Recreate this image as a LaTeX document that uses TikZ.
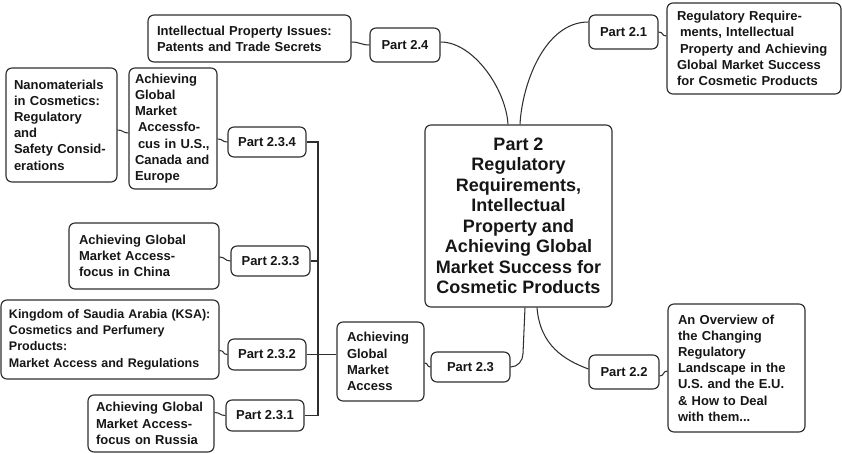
\documentclass[tikz,border=0pt]{standalone}
\usepackage{fontspec}
\setmainfont{Liberation Sans}
\usetikzlibrary{calc}
\definecolor{linec}{HTML}{2E2E2E}
\definecolor{txt}{HTML}{161616}
\begin{document}
\begin{tikzpicture}[x=1pt,y=-1pt,
  box/.style={draw=linec, line width=1.15pt, rounded corners=6pt, text=txt,
    font=\bfseries\fontsize{13}{16.2}\selectfont, align=left, inner ysep=0pt},
  smallbox/.style={box, font=\bfseries\fontsize{12.5}{16.2}\selectfont},
  partbox/.style={box, font=\bfseries\fontsize{13}{16}\selectfont, align=center, inner sep=0pt},
  mainbox/.style={box, font=\bfseries\fontsize{18}{20.5}\selectfont, align=center, inner sep=0pt},
  conn/.style={draw=linec, line width=1.05pt},
  wig/.style={conn}]
\useasboundingbox (0,0) rectangle (842,454);

% central
\node[mainbox, minimum width=187pt, minimum height=182pt] (central) at (518.5,216)
  {Part 2\\Regulatory\\Requirements,\\Intellectual\\Property and\\Achieving Global\\Market Success for\\Cosmetic Products};

% part nodes
\node[partbox, minimum width=70pt, minimum height=34pt] (p24) at (405,45) {Part 2.4};
\node[partbox, minimum width=69pt, minimum height=34pt] (p21) at (623.5,32) {Part 2.1};
\node[partbox, minimum width=70pt, minimum height=34pt] (p22) at (624,372) {Part 2.2};
\node[partbox, minimum width=79pt, minimum height=30pt] (p23) at (470.5,367) {Part 2.3};
\node[partbox, minimum width=78pt, minimum height=30pt] (p234) at (267,142) {Part 2.3.4};
\node[partbox, minimum width=79pt, minimum height=30pt] (p233) at (270.5,261) {Part 2.3.3};
\node[partbox, minimum width=78pt, minimum height=31pt] (p232) at (267,354.5) {Part 2.3.2};
\node[partbox, minimum width=78pt, minimum height=31pt] (p231) at (265,415.5) {Part 2.3.1};

% leaf nodes
\node[box, inner xsep=9pt, text width=185pt, minimum height=47pt] (ip) at (249.5,38.5)
  {Intellectual Property Issues:\\Patents and Trade Secrets};
\node[box, inner xsep=8pt, text width=95pt, minimum height=114pt] (nano) at (61.5,125)
  {Nanomaterials\\in Cosmetics:\\Regulatory\\and\\Safety Consid-\\erations};
\node[box, inner xsep=6pt, text width=76pt, minimum height=121pt] (us) at (173,128.5)
  {Achieving\\Global\\Market\\\hspace*{3pt}Accessfo-\\\hspace*{3pt}cus in U.S.,\\Canada and\\Europe};
\node[box, inner xsep=10pt, text width=154pt, minimum height=91pt] (reg) at (754,48.5)
  {Regulatory Require-\\\hspace*{3pt}ments, Intellectual\\\hspace*{3pt}Property and Achieving\\Global Market Success\\for Cosmetic Products};
\node[box, inner xsep=10pt, text width=117pt, minimum height=128pt] (ov) at (736.5,368)
  {An Overview of\\the Changing\\Regulatory\\Landscape in the\\U.S. and the E.U.\\\& How to Deal\\with them...};
\node[box, inner xsep=10pt, text width=67pt, minimum height=79pt] (agma) at (380.5,361.5)
  {Achieving\\Global\\Market\\Access};
\node[box, inner xsep=10pt, text width=130pt, minimum height=66pt] (china) at (144,256)
  {Achieving Global\\Market Access-\\focus in China};
\node[smallbox, inner xsep=8pt, text width=202pt, minimum height=79pt] (ksa) at (110,339.5)
  {Kingdom of Saudia Arabia (KSA):\\Cosmetics and Perfumery\\Products:\\Market Access and Regulations};
\node[box, inner xsep=8pt, text width=110pt, minimum height=57pt] (russia) at (151,423.5)
  {Achieving Global\\Market Access-\\focus on Russia};

% main curved connectors
\draw[conn] ([xshift=-10.5pt]central.north) .. controls +(-2,-35) and +(33,0) .. ([yshift=3pt]p24.east);
\draw[conn] ([xshift=1.5pt]central.north) .. controls +(2,-40) and +(-44,0) .. ([yshift=10pt]p21.west);
\draw[conn] ([xshift=6.5pt]central.south) -- ++(-2,46) to[out=-90,in=0] (p23.east);
\draw[conn] ([xshift=18.5pt]central.south) .. controls +(3,38) and +(-24,-9) .. ([yshift=3pt]p22.west);

% wiggle connectors
\draw[wig] ($(ip.east |- p24.west)+(0,-3)$) .. controls +(8,0) and +(-8,0) .. (p24.west);
\draw[wig] (p21.east) .. controls +(5,0) and +(-5,0) .. ($(reg.west |- p21.east)+(0,4)$);
\draw[wig] ($(p22.east)+(0,4)$) .. controls +(5,0) and +(-5,0) .. ($(ov.west |- p22.east)+(0,-1)$);
\draw[wig] ($(agma.east |- p23.west)+(0,-4)$) .. controls +(4,0) and +(-4,0) .. (p23.west);
\draw[wig] ($(nano.east)+(0,5)$) .. controls +(6,0) and +(-6,0) .. ($(us.west)+(0,4.5)$);
\draw[wig] ($(us.east |- p234.west)+(0,-3)$) .. controls +(6,0) and +(-6,0) .. (p234.west);
\draw[wig] ($(china.east |- p233.west)+(0,-4)$) .. controls +(6,0) and +(-6,0) .. (p233.west);
\draw[wig] ($(ksa.east |- p232.west)+(0,-4)$) .. controls +(5,0) and +(-5,0) .. (p232.west);
\draw[wig] ($(russia.east |- p231.west)+(0,-3)$) .. controls +(6,0) and +(-6,0) .. (p231.west);

% trunk
\coordinate (trunk) at (318,0);
\draw[conn] (p234.east) -| (trunk |- p231.east) -- (p231.east);
\draw[conn] (p233.east) -- (p233.east -| trunk);
\draw[conn] (p232.east) -- (p232.east -| agma.west);
\end{tikzpicture}
\end{document}
